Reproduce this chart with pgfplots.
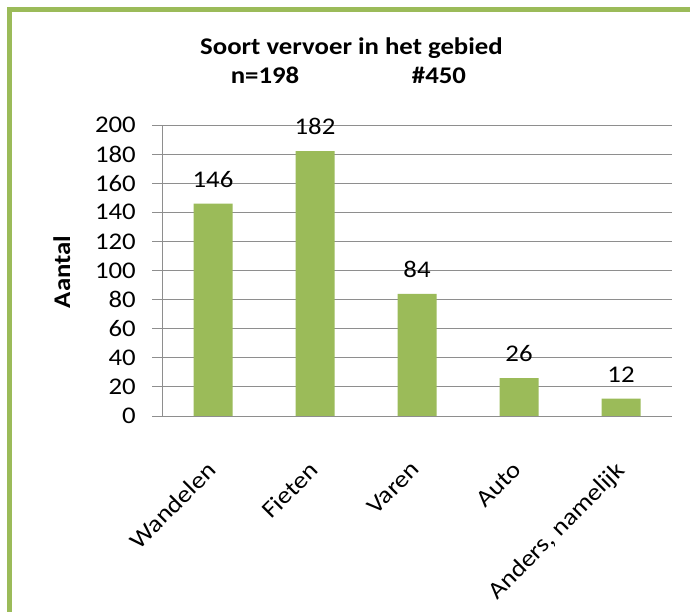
\documentclass[border=0pt]{standalone}
\usepackage{pgfplots}
\pgfplotsset{compat=1.18}
\usepackage{fontspec}
\setmainfont{Carlito}[FakeStretch=1.12]
\definecolor{bargreen}{HTML}{9BBB59}
\definecolor{gridgray}{HTML}{8E8E8E}
\begin{document}
\fontsize{24}{28}\selectfont
\begin{tikzpicture}[x=1bp,y=1bp]
\useasboundingbox (0,0) rectangle (690,612);
\fill[white] (0,0) rectangle (690,612);
\draw[bargreen, line width=5.3bp] (9.5,-5) -- (9.5,602.7) -- (700,602.7);
\node[font=\bfseries, anchor=base, inner sep=0pt] at (351.5,557.5) {Soort vervoer in het gebied};
\node[font=\bfseries, anchor=base, inner sep=0pt] at (265,528.5) {n=198};
\node[font=\bfseries, anchor=base, inner sep=0pt] at (439,528.5) {\#450};
\node[font=\bfseries, rotate=90, anchor=base, inner sep=0pt] at (70,340) {Aantal};
\begin{axis}[
  at={(162bp,196bp)}, anchor=south west,
  scale only axis, width=510bp, height=291bp,
  xmin=-0.5, xmax=4.5, ymin=0, ymax=200,
  ytick={0,20,...,200},
  xtick={0,1,2,3,4},
  xticklabels={Wandelen,Fieten,Varen,Auto,{Anders, namelijk}},
  major x tick style={draw=none},
  extra x ticks={-0.5,0.5,1.5,2.5,3.5,4.5},
  extra x tick labels={},
  extra x tick style={major tick length=11bp, tick style={gridgray, line width=0.8bp}},
  axis x line*=bottom, axis y line*=left,
  axis line style={gridgray, line width=0.8bp, -},
  tick align=outside,
  major tick length=10bp,
  tick style={gridgray, line width=0.8bp},
  ymajorgrids, grid style={gridgray, line width=0.8bp},
  /pgf/number format/assume math mode=true,
  ticklabel style={font=\fontsize{24}{28}\selectfont},
  yticklabel style={inner sep=0pt, xshift=-16bp},
  xticklabel style={rotate=45, anchor=north east, inner sep=0pt, xshift=-29bp, yshift=-19bp},
  ybar, bar width=39bp,
  nodes near coords,
  nodes near coords style={font=\fontsize{24}{28}\selectfont, anchor=base, yshift=16.5bp, inner sep=0pt},
]
\addplot[fill=bargreen, draw=none] coordinates {(0,146) (1,182) (2,84) (3,26) (4,12)};
\end{axis}
\end{tikzpicture}
\end{document}
